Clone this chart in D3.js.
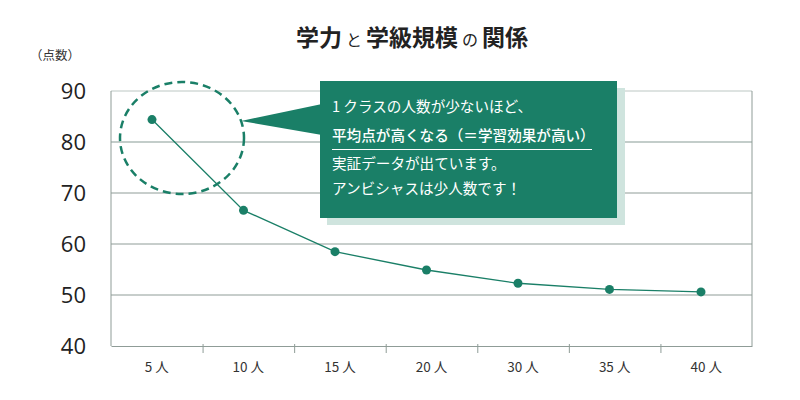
<!DOCTYPE html>
<html><head><meta charset="utf-8">
<script src="https://cdn.jsdelivr.net/npm/d3@7"></script>
<style>body{margin:0;background:#fff}svg{display:block}</style>
</head><body>
<svg id="c" width="800" height="400"></svg>
<script>
const categories = ["5 人","10 人","15 人","20 人","30 人","35 人","40 人"];
const scores = [84.4, 66.6, 58.5, 54.9, 52.3, 51.1, 50.6];
const yTicks = [40,50,60,70,80,90];
const titleParts = [{t:"学力",s:"big"},{t:"と",s:"small"},{t:"学級規模",s:"big"},{t:"の",s:"small"},{t:"関係",s:"big"}];
const yUnit = "（点数）";
const calloutLines = ["1 クラスの人数が少ないほど、","平均点が高くなる（＝学習効果が高い）","実証データが出ています。","アンビシャスは少人数です！"];

const green = "#1a7f67";
const font = "'Noto Sans CJK JP','Noto Sans',sans-serif";
const svg = d3.select("#c");
const L=111, R=752, T=91, B=346;

const x = d3.scaleBand().domain(categories).range([L,R]);
const xp = d3.scalePoint().domain(categories).range([L+41, R-51]);
const y = d3.scaleLinear().domain([40,90]).range([B,T]);

// title
const title = svg.append("text").attr("x",412).attr("y",46).attr("text-anchor","middle")
  .style("font-family",font).attr("fill","#222");
titleParts.forEach((p,i)=>{
  title.append("tspan").text(p.t)
    .style("font-size", p.s==="big"?"23px":"16px")
    .style("font-weight", p.s==="big"?"bold":"normal")
    .attr("dx", i===0?0:4);
});

svg.append("text").attr("x",30).attr("y",60).text(yUnit)
  .style("font-family",font).style("font-size","12.5px").attr("fill","#333");

// grid
svg.append("g").selectAll("line").data(yTicks.filter(d=>d>40)).join("line")
  .attr("x1",L).attr("x2",R).attr("y1",d=>y(d)).attr("y2",d=>y(d))
  .attr("stroke",d=>d===80?"#c3cdca":(d===90?"#bcc7c3":"#8f9c97"))
  .attr("stroke-width",d=>d===80?2:1);

// y labels
svg.append("g").selectAll("text").data(yTicks).join("text")
  .attr("x",86).attr("y",d=>y(d)+8).attr("text-anchor","end").text(d=>d)
  .style("font-family","'Open Sans',sans-serif").style("font-size","22px").attr("fill","#222");

// axis frame
svg.append("line").attr("x1",L).attr("x2",L).attr("y1",T).attr("y2",B).attr("stroke","#8f9c97");
svg.append("line").attr("x1",R).attr("x2",R).attr("y1",T).attr("y2",B).attr("stroke","#8f9c97");
const xAxis = svg.append("g").attr("transform",`translate(0,${B})`)
  .call(d3.axisBottom(x).tickSize(0).tickFormat(""));
xAxis.select(".domain").attr("stroke","#8f9c97");
xAxis.selectAll(".tick").remove();
svg.append("g").selectAll("line").data(categories.slice(1)).join("line")
  .attr("x1",d=>x(d)+0.5).attr("x2",d=>x(d)+0.5).attr("y1",B-2).attr("y2",B+7)
  .attr("stroke","#8f9c97");
svg.append("g").selectAll("text").data(categories).join("text")
  .attr("x",d=>x(d)+x.bandwidth()/2).attr("y",B+26).attr("text-anchor","middle").text(d=>d)
  .style("font-family",font).style("font-size","13.5px").attr("fill","#333");

// line + points
const pts = categories.map((c,i)=>[c,scores[i]]);
svg.append("path").datum(pts)
  .attr("d",d3.line().x(d=>xp(d[0])).y(d=>y(d[1])))
  .attr("fill","none").attr("stroke",green).attr("stroke-width",1.3);
svg.append("g").selectAll("circle").data(pts).join("circle")
  .attr("cx",d=>xp(d[0])).attr("cy",d=>y(d[1])).attr("r",4.5).attr("fill",green);

// dashed ellipse around first point
svg.append("ellipse").attr("cx",182).attr("cy",138).attr("rx",62).attr("ry",56)
  .attr("fill","none").attr("stroke",green).attr("stroke-width",2.5).attr("stroke-dasharray","8,5");

// callout
svg.append("rect").attr("x",327).attr("y",88).attr("width",298).attr("height",137).attr("fill","#cfe4de");
svg.append("path").attr("d","M241,121 L322,104 L322,135 Z").attr("fill",green);
svg.append("rect").attr("x",320).attr("y",81).attr("width",297).attr("height",137).attr("fill",green);
const ly = [112,141,169,194];
svg.append("g").selectAll("text").data(calloutLines).join("text")
  .attr("x",332).attr("y",(d,i)=>ly[i]).text(d=>d)
  .style("font-family",font).style("font-size","14.6px")
  .style("font-weight",(d,i)=>i===1?"500":"normal").attr("fill","#fff");
svg.append("line").attr("x1",332).attr("x2",592).attr("y1",149.5).attr("y2",149.5)
  .attr("stroke","#fff").attr("stroke-width",1);
</script>
</body></html>
